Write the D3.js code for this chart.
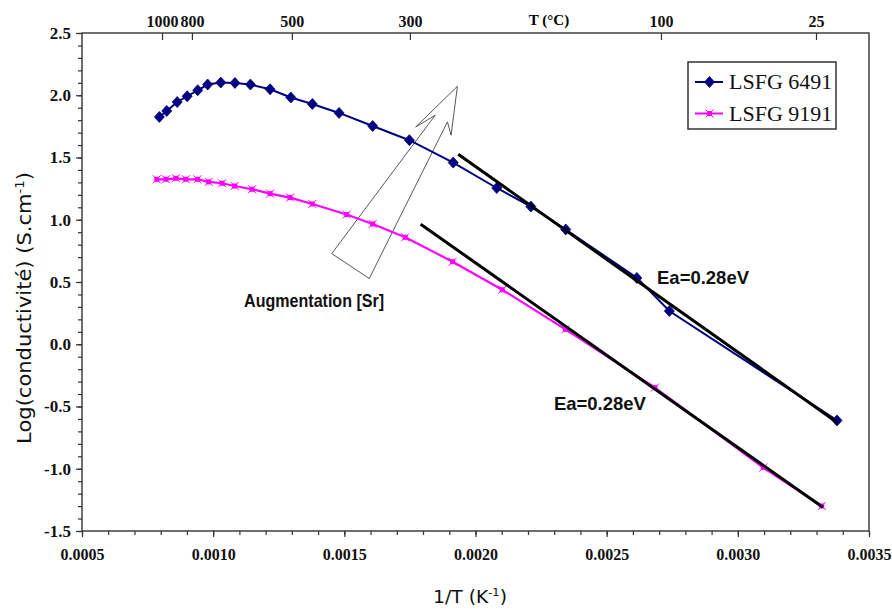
<!DOCTYPE html>
<html>
<head>
<meta charset="utf-8">
<script src="https://cdn.jsdelivr.net/npm/d3@7"></script>
<style>
  body { margin: 0; background: #fff; }
  svg { display: block; }
  .tick text { fill: #111; }
</style>
</head>
<body>
<div id="chart-container"></div>
<script>
// values: x = 1/T (K-1), y = log(conductivity)
let invT6491 = [0.000795, 0.000823, 0.000863, 0.000901, 0.000941, 0.000979, 0.001029, 0.001083,
    0.001142, 0.001217, 0.001296, 0.001378, 0.00148, 0.001608, 0.001748, 0.001915, 0.002081,
    0.002211, 0.002344, 0.002615, 0.002739, 0.003378];
let log6491 = [1.826, 1.874, 1.946, 1.992, 2.040, 2.086, 2.102, 2.099, 2.086, 2.048, 1.982,
    1.930, 1.858, 1.753, 1.639, 1.459, 1.255, 1.106, 0.922, 0.533, 0.267, -0.612];

let invT9191 = [0.000785, 0.00082, 0.000858, 0.000896, 0.00094, 0.000983, 0.001034, 0.001082,
    0.001148, 0.001217, 0.001293, 0.001378, 0.001509, 0.001608, 0.001732, 0.001913, 0.002102,
    0.002343, 0.002684, 0.003097, 0.00332];
let log9191 = [1.325, 1.325, 1.333, 1.325, 1.325, 1.304, 1.293, 1.271, 1.245, 1.210, 1.178,
    1.127, 1.042, 0.966, 0.859, 0.663, 0.438, 0.120, -0.348, -0.990, -1.299];

// Arrhenius fit lines (end points)
let fit6491X = [0.001934, 0.00338];
let fit6491Y = [1.526, -0.63];
let fit9191X = [0.001791, 0.003324];
let fit9191Y = [0.964, -1.31];

// axis ticks
let xMajorTicks = [0.0005, 0.0010, 0.0015, 0.0020, 0.0025, 0.0030, 0.0035];
let yMajorTicks = [-1.5, -1.0, -0.5, 0.0, 0.5, 1.0, 1.5, 2.0, 2.5];
let topTickLabels = ['1000', '800', '500', '300', '100', '25'];
let topTickPos = [0.000805, 0.000919, 0.0013, 0.00175, 0.002707, 0.003298];

// hollow arrow outline, in data units
let arrowX = [0.001931, 0.001907, 0.001893, 0.001595, 0.001452, 0.001846, 0.001772];
let arrowY = [2.072, 1.679, 1.786, 0.528, 0.728, 1.839, 1.745];

let seriesNames = ['LSFG 6491', 'LSFG 9191'];

let W = 892, H = 610;
let plot = {left: 82, top: 33, right: 869, bottom: 531};

let svg = d3.select('#chart-container').append('svg')
    .attr('width', W)
    .attr('height', H);

let x = d3.scaleLinear().domain([0.0005, 0.0035]).range([plot.left, plot.right]);
let y = d3.scaleLinear().domain([-1.5, 2.5]).range([plot.bottom, plot.top]);

let serif = '"Liberation Serif", "Times New Roman", serif';
let sans = '"Liberation Sans", Arial, sans-serif';
let axisCol = '#333';

function styleAxis(g) {
    g.select('.domain').remove();
    g.selectAll('.tick line').attr('stroke', axisCol).attr('stroke-width', 1.2);
}

// ---- bottom axis ----
svg.append('g')
    .attr('transform', 'translate(0,' + plot.bottom + ')')
    .call(d3.axisBottom(x).tickValues(d3.range(5, 36).map(function(i) { return i / 10000; }))
        .tickSize(4).tickFormat(''))
    .call(styleAxis);

svg.append('g')
    .attr('transform', 'translate(0,' + plot.bottom + ')')
    .call(d3.axisBottom(x).tickValues(xMajorTicks).tickSize(6).tickPadding(12)
        .tickFormat(function(d) { return d.toFixed(4); }))
    .call(styleAxis)
    .selectAll('text')
    .attr('font-family', serif)
    .attr('font-weight', 'bold')
    .attr('font-size', 16);

// ---- left axis ----
svg.append('g')
    .attr('transform', 'translate(' + plot.left + ',0)')
    .call(d3.axisLeft(y).tickValues(d3.range(-15, 26).map(function(i) { return i / 10; }))
        .tickSize(4).tickFormat(''))
    .call(styleAxis);

svg.append('g')
    .attr('transform', 'translate(' + plot.left + ',0)')
    .call(d3.axisLeft(y).tickValues(yMajorTicks).tickSize(6).tickPadding(5)
        .tickFormat(function(d) { return d.toFixed(1); }))
    .call(styleAxis)
    .selectAll('text')
    .attr('font-family', serif)
    .attr('font-weight', 'bold')
    .attr('font-size', 17);

// ---- top axis (temperature) ----
svg.append('g')
    .attr('transform', 'translate(0,' + plot.top + ')')
    .call(d3.axisTop(x).tickValues(topTickPos).tickSizeInner(-7).tickSizeOuter(0).tickPadding(6)
        .tickFormat(function(d, i) { return topTickLabels[i]; }))
    .call(styleAxis)
    .selectAll('text')
    .attr('font-family', serif)
    .attr('font-weight', 'bold')
    .attr('font-size', 16);

svg.append('text')
    .attr('x', 549)
    .attr('y', 25)
    .attr('text-anchor', 'middle')
    .attr('font-family', serif)
    .attr('font-weight', 'bold')
    .attr('font-size', 15)
    .text('T (°C)');

// frame
svg.append('rect')
    .attr('x', plot.left)
    .attr('y', plot.top)
    .attr('width', plot.right - plot.left)
    .attr('height', plot.bottom - plot.top)
    .attr('fill', 'none')
    .attr('stroke', axisCol)
    .attr('stroke-width', 1.4);

// squeeze a text element horizontally to a target width
function fitWidth(t, w) {
    let len = t.node().getComputedTextLength();
    if (len > 0) {
        t.attr('transform', 'scale(' + (w / len) + ',1)');
    }
}

// y title
let yt = svg.append('g').attr('transform', 'translate(31,308) rotate(-90)')
    .append('text')
    .attr('text-anchor', 'middle')
    .attr('font-family', '"DejaVu Sans", Verdana, sans-serif')
    .attr('font-size', 19)
    .attr('fill', '#111');
yt.append('tspan').text('Log(conductivité) (S.cm');
yt.append('tspan').attr('dy', -7).attr('font-size', 12).text('-1');
yt.append('tspan').attr('dy', 7).text(')');
fitWidth(yt, 272);

// x title
let xt = svg.append('g').attr('transform', 'translate(470,603)')
    .append('text')
    .attr('text-anchor', 'middle')
    .attr('font-family', '"DejaVu Sans", Verdana, sans-serif')
    .attr('font-size', 18)
    .attr('fill', '#111');
xt.append('tspan').text('1/T (K');
xt.append('tspan').attr('dy', -7).attr('font-size', 11).text('-1');
xt.append('tspan').attr('dy', 7).text(')');
fitWidth(xt, 74);

// ---- annotation arrow ----
let arrowPts = arrowX.map(function(d, i) { return [x(d), y(arrowY[i])]; });
svg.append('path')
    .attr('d', 'M' + arrowPts.join('L') + 'Z')
    .attr('fill', 'none')
    .attr('stroke', '#444')
    .attr('stroke-width', 0.9);

// ---- series ----
let line = d3.line()
    .x(function(d) { return x(d[0]); })
    .y(function(d) { return y(d[1]); });

let pts9191 = invT9191.map(function(d, i) { return [d, log9191[i]]; });
let pts6491 = invT6491.map(function(d, i) { return [d, log6491[i]]; });

let pink = '#ff00ff', navy = '#000080';

function starMarker(g, cx, cy) {
    g.append('rect')
        .attr('x', cx - 2.5).attr('y', cy - 2.5)
        .attr('width', 5).attr('height', 5)
        .attr('fill', pink);
    g.append('path')
        .attr('d', 'M' + (cx - 4) + ',' + (cy - 4) + 'L' + (cx + 4) + ',' + (cy + 4) +
            'M' + (cx - 4) + ',' + (cy + 4) + 'L' + (cx + 4) + ',' + (cy - 4))
        .attr('stroke', pink)
        .attr('stroke-width', 1);
}

function diamond(g, cx, cy) {
    g.append('path')
        .attr('d', 'M' + cx + ',' + (cy - 5.5) + 'L' + (cx + 5) + ',' + cy + 'L' + cx + ',' +
            (cy + 5.5) + 'L' + (cx - 5) + ',' + cy + 'Z')
        .attr('fill', navy)
        .attr('stroke', navy)
        .attr('stroke-width', 0.8);
}

let g9191 = svg.append('g');
g9191.append('path')
    .attr('d', line(pts9191))
    .attr('fill', 'none')
    .attr('stroke', pink)
    .attr('stroke-width', 2.2);
pts9191.forEach(function(p) { starMarker(g9191, x(p[0]), y(p[1])); });

let g6491 = svg.append('g');
g6491.append('path')
    .attr('d', line(pts6491))
    .attr('fill', 'none')
    .attr('stroke', navy)
    .attr('stroke-width', 2);
pts6491.forEach(function(p) { diamond(g6491, x(p[0]), y(p[1])); });

// fit lines
[[fit6491X, fit6491Y], [fit9191X, fit9191Y]].forEach(function(f) {
    svg.append('path')
        .attr('d', line(f[0].map(function(d, i) { return [d, f[1][i]]; })))
        .attr('stroke', '#000')
        .attr('stroke-width', 3);
});

// ---- text annotations ----
let notes = [
    {text: 'Augmentation [Sr]', x: 0.001118, y: 0.297, w: 140, size: 18},
    {text: 'Ea=0.28eV', x: 0.002692, y: 0.482, w: 92, size: 18},
    {text: 'Ea=0.28eV', x: 0.002299, y: -0.530, w: 92, size: 18}
];
notes.forEach(function(n) {
    let t = svg.append('g').attr('transform', 'translate(' + x(n.x) + ',' + y(n.y) + ')')
        .append('text')
        .attr('font-family', sans)
        .attr('font-weight', 'bold')
        .attr('font-size', n.size)
        .attr('fill', '#111')
        .text(n.text);
    fitWidth(t, n.w);
});

// ---- legend ----
let legend = svg.append('g').attr('transform', 'translate(688,62)');
legend.append('rect')
    .attr('width', 148)
    .attr('height', 67)
    .attr('fill', '#fff')
    .attr('stroke', axisCol)
    .attr('stroke-width', 1.5);

seriesNames.forEach(function(name, i) {
    let ly = 20 + i * 31.5;
    let col = i === 0 ? navy : pink;
    legend.append('line')
        .attr('x1', 7).attr('x2', 35)
        .attr('y1', ly).attr('y2', ly)
        .attr('stroke', col)
        .attr('stroke-width', 2);
    if (i === 0) {
        diamond(legend, 21.5, ly);
    } else {
        starMarker(legend, 21.5, ly);
    }
    legend.append('text')
        .attr('x', 41)
        .attr('y', ly + 7)
        .attr('font-family', serif)
        .attr('font-size', 22)
        .attr('fill', '#111')
        .text(name);
});
</script>
</body>
</html>
